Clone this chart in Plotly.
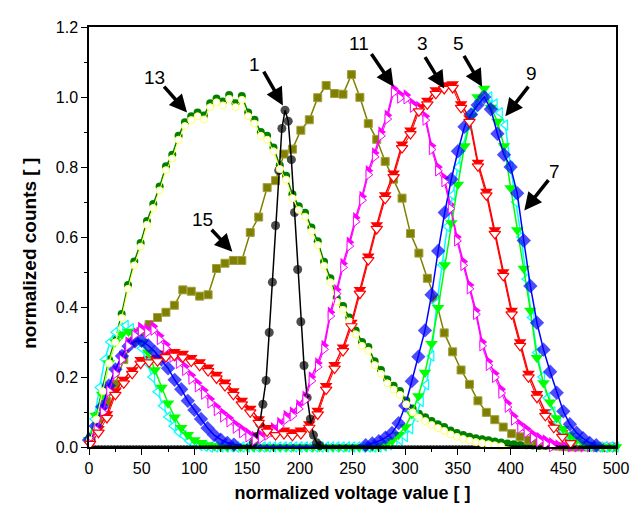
import plotly.graph_objects as go

# ---------------- data ----------------
x_black = list(range(0, 500, 3))          # 167 bins
y_black = [0.0] * 52 + [0.012, 0.03, 0.066, 0.122, 0.19, 0.327, 0.471, 0.633, 0.79, 0.91,
                        0.962, 0.931, 0.821, 0.670, 0.507, 0.358, 0.233, 0.141, 0.08, 0.034,
                        0.012, 0.004] + [0.0] * 93

x_g13 = list(range(1, 500, 6))            # 84 bins
y_g13 = [0.03, 0.09, 0.17, 0.25, 0.31, 0.38, 0.463, 0.53, 0.583, 0.646,
         0.694, 0.744, 0.802, 0.835, 0.889, 0.928, 0.945, 0.956, 0.947, 0.982,
         0.996, 0.987, 1.006, 0.982, 1.003, 0.956, 0.935, 0.9, 0.889, 0.856,
         0.805, 0.775, 0.722, 0.688, 0.669, 0.627, 0.588, 0.529, 0.482, 0.426,
         0.403, 0.37, 0.333, 0.3, 0.286, 0.245, 0.22, 0.193, 0.175, 0.16,
         0.133, 0.11, 0.095, 0.085, 0.074, 0.065, 0.057, 0.047, 0.04, 0.034,
         0.029, 0.025, 0.022, 0.019, 0.016, 0.013, 0.01, 0.008, 0.006, 0.005,
         0.004, 0.003, 0.003, 0.002, 0.002, 0.001, 0.001, 0, 0, 0,
         0, 0, 0, 0]

x_olive = list(range(1, 500, 8))          # 63 bins
y_olive = [0.02, 0.08, 0.13, 0.18, 0.25, 0.30, 0.33, 0.35, 0.37, 0.385,
           0.405, 0.449, 0.445, 0.431, 0.435, 0.51, 0.525, 0.533, 0.533, 0.613,
           0.657, 0.741, 0.761, 0.837, 0.851, 0.905, 0.935, 0.998, 1.033, 1.01,
           1.008, 1.064, 0.999, 0.924, 0.879, 0.816, 0.765, 0.711, 0.61, 0.554,
           0.482, 0.421, 0.326, 0.272, 0.22, 0.179, 0.132, 0.099, 0.078, 0.057,
           0.038, 0.029, 0.02, 0.012, 0.006, 0.003, 0.001, 0, 0, 0,
           0, 0, 0]

x_mag = list(range(1, 500, 6))            # 84 bins
y_mag = [0.02, 0.06, 0.11, 0.17, 0.22, 0.26, 0.30, 0.33, 0.342, 0.338,
         0.345, 0.318, 0.293, 0.268, 0.25, 0.23, 0.205, 0.183, 0.162, 0.137,
         0.115, 0.097, 0.083, 0.065, 0.052, 0.04, 0.03, 0.035, 0.045, 0.055,
         0.07, 0.09, 0.1, 0.12, 0.145, 0.2, 0.24, 0.29, 0.385, 0.449,
         0.524, 0.585, 0.655, 0.716, 0.789, 0.84, 0.9, 0.948, 1.024, 1.008,
         1.006, 0.982, 0.973, 0.945, 0.861, 0.8, 0.769, 0.692, 0.6, 0.53,
         0.463, 0.39, 0.3, 0.244, 0.21, 0.165, 0.125, 0.088, 0.065, 0.052,
         0.037, 0.027, 0.02, 0.012, 0.006, 0.003, 0.001, 0, 0, 0,
         0, 0, 0, 0]

x_red = list(range(1, 500, 8))            # 63 bins
y_red = [0.02, 0.052, 0.094, 0.16, 0.193, 0.22, 0.249, 0.253, 0.256, 0.268,
         0.272, 0.267, 0.255, 0.243, 0.228, 0.207, 0.185, 0.16, 0.133, 0.11,
         0.08, 0.055, 0.045, 0.048, 0.043, 0.048, 0.066, 0.104, 0.175, 0.235,
         0.285, 0.356, 0.449, 0.545, 0.634, 0.72, 0.782, 0.865, 0.905, 0.97,
         0.99, 1.02, 1.034, 1.037, 0.98, 0.94, 0.813, 0.73, 0.62, 0.5,
         0.39, 0.3, 0.21, 0.152, 0.1, 0.066, 0.04, 0.022, 0.01, 0.004,
         0.001, 0, 0]

x_blue = [6.25 * k for k in range(81)]    # 81 bins
y_blue = [0.02, 0.06, 0.115, 0.175, 0.222, 0.26, 0.288, 0.302, 0.303, 0.29,
          0.272, 0.25, 0.225, 0.192, 0.165, 0.132, 0.106, 0.08, 0.054, 0.034,
          0.021, 0.012, 0.007, 0.004, 0.003] + [0.002] * 17 + \
         [0.005, 0.01, 0.017, 0.027, 0.04, 0.068, 0.118, 0.188, 0.258, 0.333,
          0.435, 0.56, 0.67, 0.765, 0.845, 0.915, 0.95, 0.977, 1.0, 0.965,
          0.895, 0.835, 0.8, 0.725, 0.59, 0.46, 0.355, 0.278, 0.215, 0.155,
          0.102, 0.065, 0.041, 0.025, 0.012, 0.005, 0.002, 0.001, 0]

x_green = [6.25 * k for k in range(81)]   # 81 bins
y_green = [0.02, 0.09, 0.15, 0.24, 0.3, 0.322, 0.33, 0.318, 0.3, 0.27,
           0.22, 0.17, 0.125, 0.085, 0.055, 0.035, 0.02, 0.012, 0.006, 0.003] + [0.001] * 25 + \
          [0.006, 0.018, 0.035, 0.057, 0.094, 0.146, 0.213, 0.295, 0.398, 0.52,
           0.64, 0.75, 0.86, 0.945, 1.0, 1.024, 0.97, 0.93, 0.86, 0.74,
           0.62, 0.51, 0.39, 0.255, 0.183, 0.128, 0.083, 0.052, 0.033, 0.02,
           0.01, 0.005, 0.002, 0.001, 0, 0]

x_cyan = list(range(0, 501, 5))           # 101 bins
y_cyan = [0.02, 0.08, 0.17, 0.25, 0.30, 0.328, 0.34, 0.347, 0.338, 0.315,
          0.282, 0.24, 0.2, 0.158, 0.118, 0.086, 0.06, 0.043, 0.032, 0.017,
          0.008, 0.004, 0.002] + [0.0] * 33 + \
         [0.003, 0.006, 0.012, 0.02, 0.03, 0.052, 0.087, 0.13, 0.178, 0.26,
          0.41, 0.52, 0.63, 0.72, 0.8, 0.86, 0.92, 0.96, 0.99, 1.0,
          1.0, 0.98, 0.955, 0.92, 0.8, 0.7, 0.6, 0.48, 0.37, 0.27,
          0.2, 0.14, 0.1, 0.07, 0.045, 0.03, 0.018, 0.01, 0.005, 0.002,
          0, 0, 0, 0, 0]

# labels: (text, label x, label y, arrow tail x, tail y, head x, head y)
labels = ["13", "1", "15", "11", "3", "5", "9", "7"]
label_pos = [(62, 1.057), (157, 1.093), (108, 0.65), (256, 1.153),
             (316, 1.153), (351, 1.153), (420, 1.068), (442, 0.786)]
arrow_tail = [(70, 1.034), (165, 1.077), (115, 0.625), (267, 1.127),
              (318, 1.118), (355, 1.122), (418, 1.034), (437, 0.767)]
arrow_head = [(93, 0.956), (184, 0.976), (136, 0.558), (289, 1.029),
              (337, 1.024), (373, 1.029), (395, 0.945), (413, 0.676)]

FONT = "Arial, Liberation Sans, sans-serif"
OFF = 0.011   # visual offset of the paired (open-symbol) series

fig = go.Figure()


def add(x, y, symbol, size, fill, outline, olw, lcolor, lw=1.5, axis="y", sizes=None):
    fig.add_trace(go.Scatter(
        x=x, y=y, mode="lines+markers", yaxis=axis, cliponaxis=False, showlegend=False,
        line=dict(color=lcolor, width=lw),
        marker=dict(symbol=symbol, size=sizes if sizes is not None else size,
                    color=fill, line=dict(color=outline, width=olw))))


# 13 / 14 : dark green + yellow open
add(x_g13, y_g13, "circle", 8, "#008000", "#008000", 0, "#008000")
add(x_g13, y_g13, "circle", 7, "white", "#FFFF66", 1, "#FFFF44", lw=1, axis="y2")
# 15 olive squares
add(x_olive, y_olive, "square", 8, "#808000", "#A0A040", 1, "#808000")
# 11 magenta right triangles
add(x_mag, y_mag, "triangle-right", 10, "#FF00FF", "#FF00FF", 0, "#FF00FF")
add(x_mag, y_mag, "triangle-right", 9, "white", "#FF00FF", 1, "#FF00FF", lw=1, axis="y2")
# 3 red down triangles
add(x_red, y_red, "triangle-down", 11, "#FF0000", "#FF0000", 0, "#FF0000")
add(x_red, y_red, "triangle-down", 10, "white", "#FF0000", 1.2, "#FF0000", lw=1, axis="y2")
# 9 cyan left triangles
add(x_cyan, y_cyan, "triangle-left", 9, "white", "#00FFFF", 1.2, "#00FFFF", lw=1.5)
# 5 green down triangles
add(x_green, y_green, "triangle-down", 11, "#00FF00", "#00FF00", 0, "#00FF00")
# 7 blue diamonds
add(x_blue, y_blue, "diamond", 11, "#0000FF", "#0000FF", 0, "#0000FF",
    sizes=[11 if v > 0.004 else 4 for v in y_blue])
# 1 black circles
add(x_black, y_black, "circle", 9, "black", "black", 0, "black",
    sizes=[9 if v > 0.003 else 4 for v in y_black])

ann = []
for t, (lx, ly), (tx, ty), (hx, hy) in zip(labels, label_pos, arrow_tail, arrow_head):
    ann.append(dict(x=lx, y=ly, xref="x", yref="y", text=t, showarrow=False,
                    font=dict(family=FONT, size=19, color="black")))
    ann.append(dict(x=hx, y=hy, ax=tx, ay=ty, xref="x", yref="y", axref="x", ayref="y",
                    text="", showarrow=True, arrowhead=2, arrowsize=1, arrowwidth=3.5,
                    arrowcolor="black"))

# y-axis title (placed slightly below the axis centre, as in the original)
ann.append(dict(x=0, y=0.46, xref="paper", yref="paper", xshift=-59,
                text="<b>normalized counts [ ]</b>", textangle=-90, showarrow=False,
                xanchor="center", yanchor="middle",
                font=dict(family=FONT, size=19, color="black")))

axis_common = dict(showline=True, linecolor="black", linewidth=1.5, mirror=True,
                   ticks="outside", ticklen=6, tickwidth=1.2, tickcolor="black",
                   showgrid=False, zeroline=False,
                   tickfont=dict(family=FONT, size=16, color="black"))

fig.update_layout(
    width=634, height=504,
    margin=dict(l=81, r=26, t=11, b=65),
    paper_bgcolor="white", plot_bgcolor="white",
    font=dict(family=FONT, color="black"),
    xaxis=dict(range=[0, 500], tick0=0, dtick=50,
               minor=dict(dtick=25, ticklen=3, ticks="outside", tickcolor="black"),
               title=dict(text="<b>normalized voltage value [ ]</b>",
                          font=dict(family=FONT, size=18), standoff=10),
               **axis_common),
    yaxis=dict(range=[0, 1.2], tick0=0, dtick=0.2, tickformat=".1f",
               minor=dict(dtick=0.1, ticklen=3, ticks="outside", tickcolor="black"),
               **axis_common),
    yaxis2=dict(range=[OFF, 1.2 + OFF], overlaying="y", visible=False, fixedrange=True),
    annotations=ann,
)

fig.write_html("out.html")
